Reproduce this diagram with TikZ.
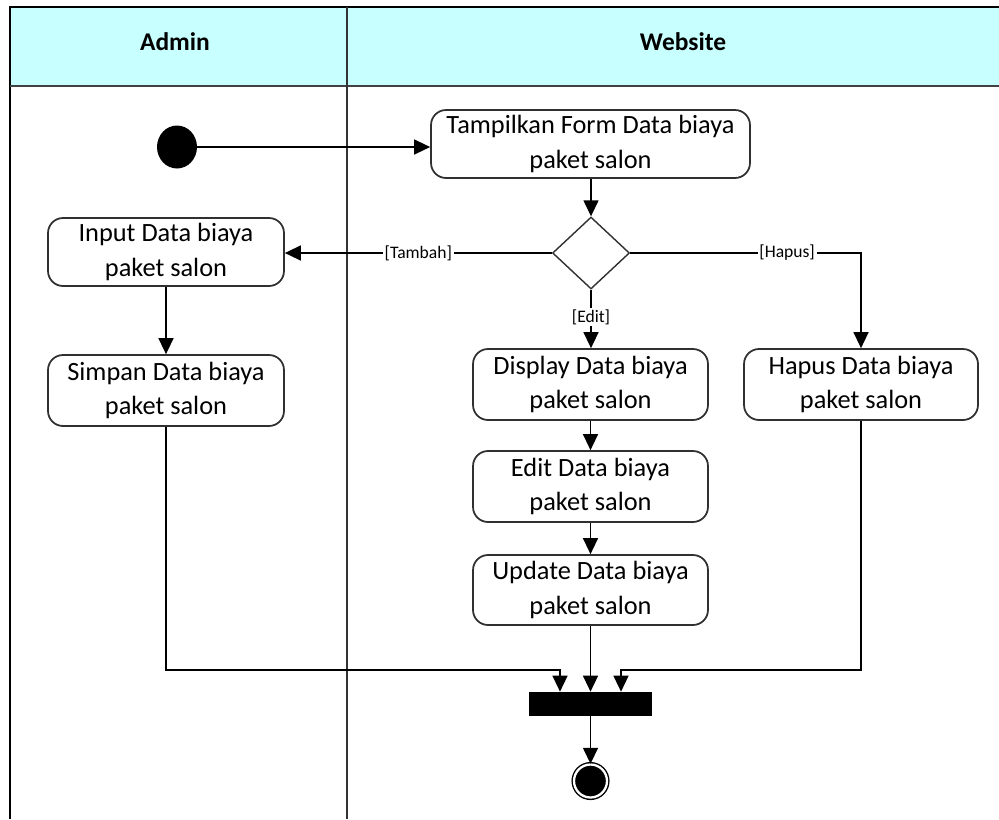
\documentclass[tikz,border=0pt]{standalone}
\usepackage{fontspec}
\setmainfont{Carlito}
\usetikzlibrary{shapes.geometric,arrows.meta,calc}
\definecolor{headfill}{HTML}{C8FFFF}
\definecolor{boxline}{HTML}{303030}
\tikzset{
  actbox/.style={draw=boxline, line width=1pt, rounded corners=0.3cm, fill=white,
    inner sep=0pt, align=center, font=\fontsize{15}{19.5}\selectfont},
  flow/.style={draw=black, line width=0.8pt, -{Triangle[length=0.32cm,width=0.3cm]}},
  guard/.style={fill=white, inner sep=1pt, font=\fontsize{10}{12}\selectfont},
  headtxt/.style={font=\fontsize{14.5}{17}\selectfont\bfseries},
}
\begin{document}
\begin{tikzpicture}[x=0.02cm,y=-0.02cm]
\useasboundingbox (0,0) rectangle (999,819);
% swimlane frame
\fill[headfill] (10,8) rectangle (999,86);
\draw[line width=1.7pt] (9,7) -- (999,7);
\draw[line width=1.7pt] (10,6) -- (10,819);
\draw[line width=1pt, black!75] (10,86) -- (999,86);
\draw[line width=1pt, black!80] (347,7) -- (347,819);
\node[headtxt] (hadmin) at (175,42) {Admin};
\node[headtxt] (hweb) at (683,42) {Website};

% nodes
\node[ellipse, fill=black, minimum width=0.8cm, minimum height=0.86cm, inner sep=0pt] (init) at (177,147) {};
\node[actbox, minimum width=6.38cm, minimum height=1.36cm] (tamp) at (590.5,144) {Tampilkan Form Data biaya\\paket salon};
\node[diamond, draw=boxline, line width=0.8pt, fill=white, minimum width=1.54cm, minimum height=1.44cm, inner sep=0pt] (dec) at (591,253) {};
\node[actbox, minimum width=4.72cm, minimum height=1.36cm] (input) at (166,252) {Input Data biaya\\paket salon};
\node[actbox, minimum width=4.72cm, minimum height=1.42cm] (simpan) at (166,390.5) {Simpan Data biaya\\paket salon};
\node[actbox, minimum width=4.7cm, minimum height=1.42cm] (display) at (590.5,384.5) {Display Data biaya\\paket salon};
\node[actbox, minimum width=4.7cm, minimum height=1.42cm] (edit) at (590.5,486.5) {Edit Data biaya\\paket salon};
\node[actbox, minimum width=4.7cm, minimum height=1.4cm] (update) at (590.5,590) {Update Data biaya\\paket salon};
\node[actbox, minimum width=4.68cm, minimum height=1.42cm] (hapus) at (861,384.5) {Hapus Data biaya\\paket salon};
\node[rectangle, fill=black, minimum width=2.46cm, minimum height=0.48cm, inner sep=0pt] (bar) at (590.5,704) {};
\node[circle, fill=black, draw=black, line width=0.8pt, double=white, double distance=1.3pt, minimum size=0.66cm, inner sep=0pt] (final) at (590.5,781) {};

\coordinate (jl) at (560,670);
\coordinate (jr) at (621,670);

% connectors
\draw[flow] (init.east) -- (init.east -| tamp.west);
\draw[flow] (tamp.south -| dec.north) -- (dec.north);
\draw[flow] (dec.west) -- node[guard, pos=0.5] {[Tambah]} (input.east |- dec.west);
\draw[flow] (dec.east) -| node[guard, pos=0.34] {[Hapus]} (hapus.north);
\draw[flow] (dec.south) -- node[guard, pos=0.47] {[Edit]} (dec.south |- display.north);
\draw[flow] (input.south) -- (simpan.north);
\draw[flow] (display.south) -- (edit.north);
\draw[flow] (edit.south) -- (update.north);
\draw[flow] (simpan.south) |- (jl) -- (jl |- bar.north);
\draw[flow] (update.south) -- (update.south |- bar.north);
\draw[flow] (hapus.south) |- (jr) -- (jr |- bar.north);
\draw[flow] (bar.south) -- (final.north);
\end{tikzpicture}
\end{document}
